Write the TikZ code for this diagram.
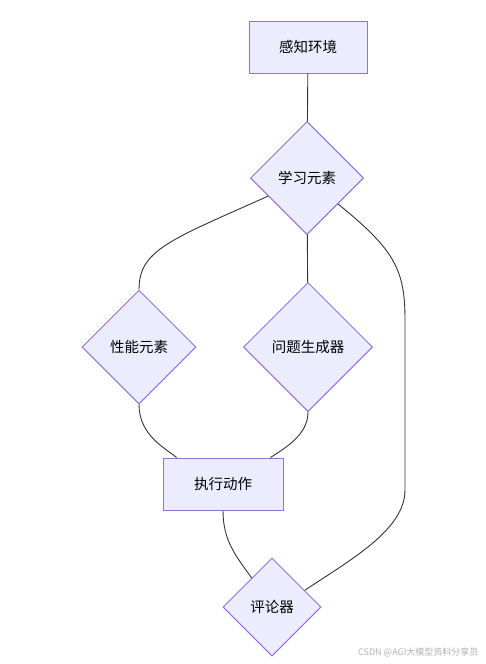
\documentclass[tikz,border=0pt]{standalone}
\usepackage{fontspec}
\newfontfamily\cjk{Noto Sans CJK SC}
\usepackage{tikz}
\usetikzlibrary{shapes.geometric}
\definecolor{boxfill}{HTML}{ECECFF}
\definecolor{boxline}{HTML}{9370DB}
\definecolor{linkgray}{HTML}{333333}

\begin{document}
\begin{tikzpicture}[x=1pt,y=-1pt,
    font=\cjk\fontsize{14.5}{17}\selectfont,
    box/.style={draw=boxline,fill=boxfill,line width=1pt,minimum width=118pt,minimum height=52pt,inner sep=0pt},
    rhomb/.style={diamond,aspect=1,draw=boxline,fill=boxfill,line width=1pt,inner sep=0pt},
    link/.style={draw=linkgray,line width=0.9pt}]
   \useasboundingbox (0,0) rectangle (486,664);
   \draw (308,47) node[box] (env) {感知环境};
   \draw (307,178) node[rhomb,minimum size=113pt] (learn) {学习元素};
      \draw (139,347) node[rhomb,minimum size=114pt] (perf) {性能元素};
      \draw (308,347) node[rhomb,minimum size=129pt] (gen) {问题生成器};
	    \draw (223,484) node[box,minimum width=120pt] (act) {执行动作};
		\draw (272,607) node[rhomb,minimum size=98pt] (critic) {评论器};
		\draw (482,652) node[anchor=east,text=black!30,font=\cjk\fontsize{9}{10}\selectfont] (mark) {CSDN @AGI大模型资料分享员};

    \path[link] (env) edge (learn);
    \path[link] (learn) edge (gen);
    \draw[link] (learn.205) .. controls (170,240) and (139,250) .. (perf.north);
    \draw[link] (learn.-40) .. controls (395,250) and (405,270) .. (405,320)
       -- (405,490) .. controls (405,530) and (350,560) .. (critic.27);
    \draw[link] (perf.south) .. controls (139,435) and (165,448) .. ([xshift=14pt]act.north west);
    \draw[link] (gen.south) .. controls (308,435) and (285,448) .. ([xshift=-13pt]act.north east);
    \draw[link] (act.south) .. controls (223,540) and (235,555) .. (critic.125);

\end{tikzpicture}
\end{document}
